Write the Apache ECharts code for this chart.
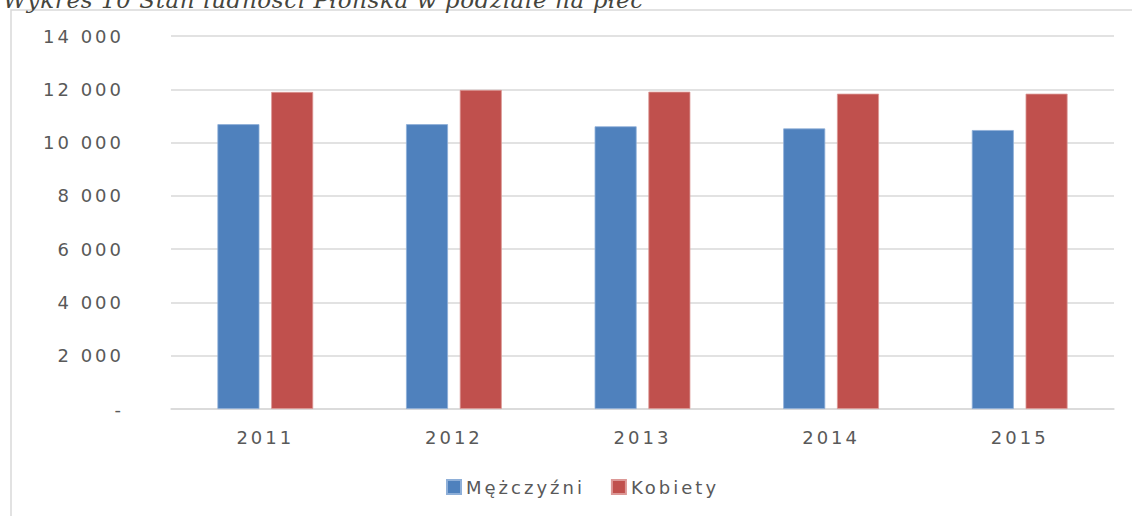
<!DOCTYPE html>
<html>
<head>
<meta charset="utf-8">
<title>Wykres 10</title>
<script src="https://cdn.jsdelivr.net/npm/echarts@6/dist/echarts.min.js"></script>
<style>
    html, body { margin: 0; padding: 0; background: #fff; overflow: hidden; }
    #wrap { position: relative; width: 1132px; height: 516px; }
    #chart { width: 1132px; height: 516px; }
    /* szerszy rozstaw liter jak w oryginale (Excel) */
    #chart text { letter-spacing: 3px; }
    #title {
        position: absolute;
        left: 3px;
        top: -11px;
        font: italic 23px/23px "DejaVu Serif";
        letter-spacing: 0.6px;
        color: #45453d;
        white-space: nowrap;
    }
</style>
</head>
<body>
<div id="wrap">
    <div id="chart"></div>
    <div id="title"></div>
</div>
<script>
// dane wykresu
const years = ['2011', '2012', '2013', '2014', '2015'];
const men = [10690, 10690, 10610, 10530, 10470];
const women = [11900, 11975, 11910, 11835, 11835];
const seriesNames = ['Mężczyźni', 'Kobiety'];
const titleText = 'Wykres 10 Stan ludności Płońska w podziale na płeć';

const textColor = '#595959';

function formatTick(v) {
    if (v === 0) return '-';
    return String(v).replace(/\B(?=(\d{3})+(?!\d))/g, ' ');
}

window.addEventListener('DOMContentLoaded', function() {
    document.getElementById('title').textContent = titleText;

    const chart = echarts.init(document.getElementById('chart'), null, { renderer: 'svg' });
    const option = {
        animation: false,
        color: ['#4F81BD', '#C0504D'],
        grid: {
            left: 171,
            right: 18,
            top: 36,
            bottom: 107
        },
        legend: {
            data: seriesNames,
            bottom: 15,
            left: 441,
            itemWidth: 14,
            itemHeight: 14,
            itemGap: 53,
            icon: 'rect',
            textStyle: {
                fontFamily: 'DejaVu Sans',
                fontSize: 18,
                color: textColor
            }
        },
        graphic: [
            {
                type: 'polyline',
                shape: { points: [[11, 516], [11, 10], [1132, 10]] },
                style: { stroke: '#d9d9d9', lineWidth: 1.5, fill: null }
            }
        ],
        xAxis: {
            type: 'category',
            data: years,
            axisTick: { show: false },
            axisLine: { lineStyle: { color: '#d9d9d9', width: 1.5 } },
            axisLabel: {
                margin: 19,
                fontFamily: 'DejaVu Sans',
                fontSize: 18,
                color: textColor
            }
        },
        yAxis: {
            type: 'value',
            min: 0,
            max: 14000,
            interval: 2000,
            axisLine: { show: false },
            axisTick: { show: false },
            splitLine: { lineStyle: { color: '#d9d9d9', width: 1.5 } },
            axisLabel: {
                margin: 47,
                fontFamily: 'DejaVu Sans',
                fontSize: 18,
                color: textColor,
                formatter: formatTick
            }
        },
        series: [
            {
                name: seriesNames[0],
                type: 'bar',
                data: men,
                barWidth: 42,
                barGap: '28%',
                itemStyle: { borderColor: '#8eafd8', borderWidth: 0.8 }
            },
            {
                name: seriesNames[1],
                type: 'bar',
                data: women,
                barWidth: 42,
                itemStyle: { borderColor: '#dc9896', borderWidth: 0.8 }
            }
        ]
    };
    chart.setOption(option);
});
</script>
</body>
</html>
